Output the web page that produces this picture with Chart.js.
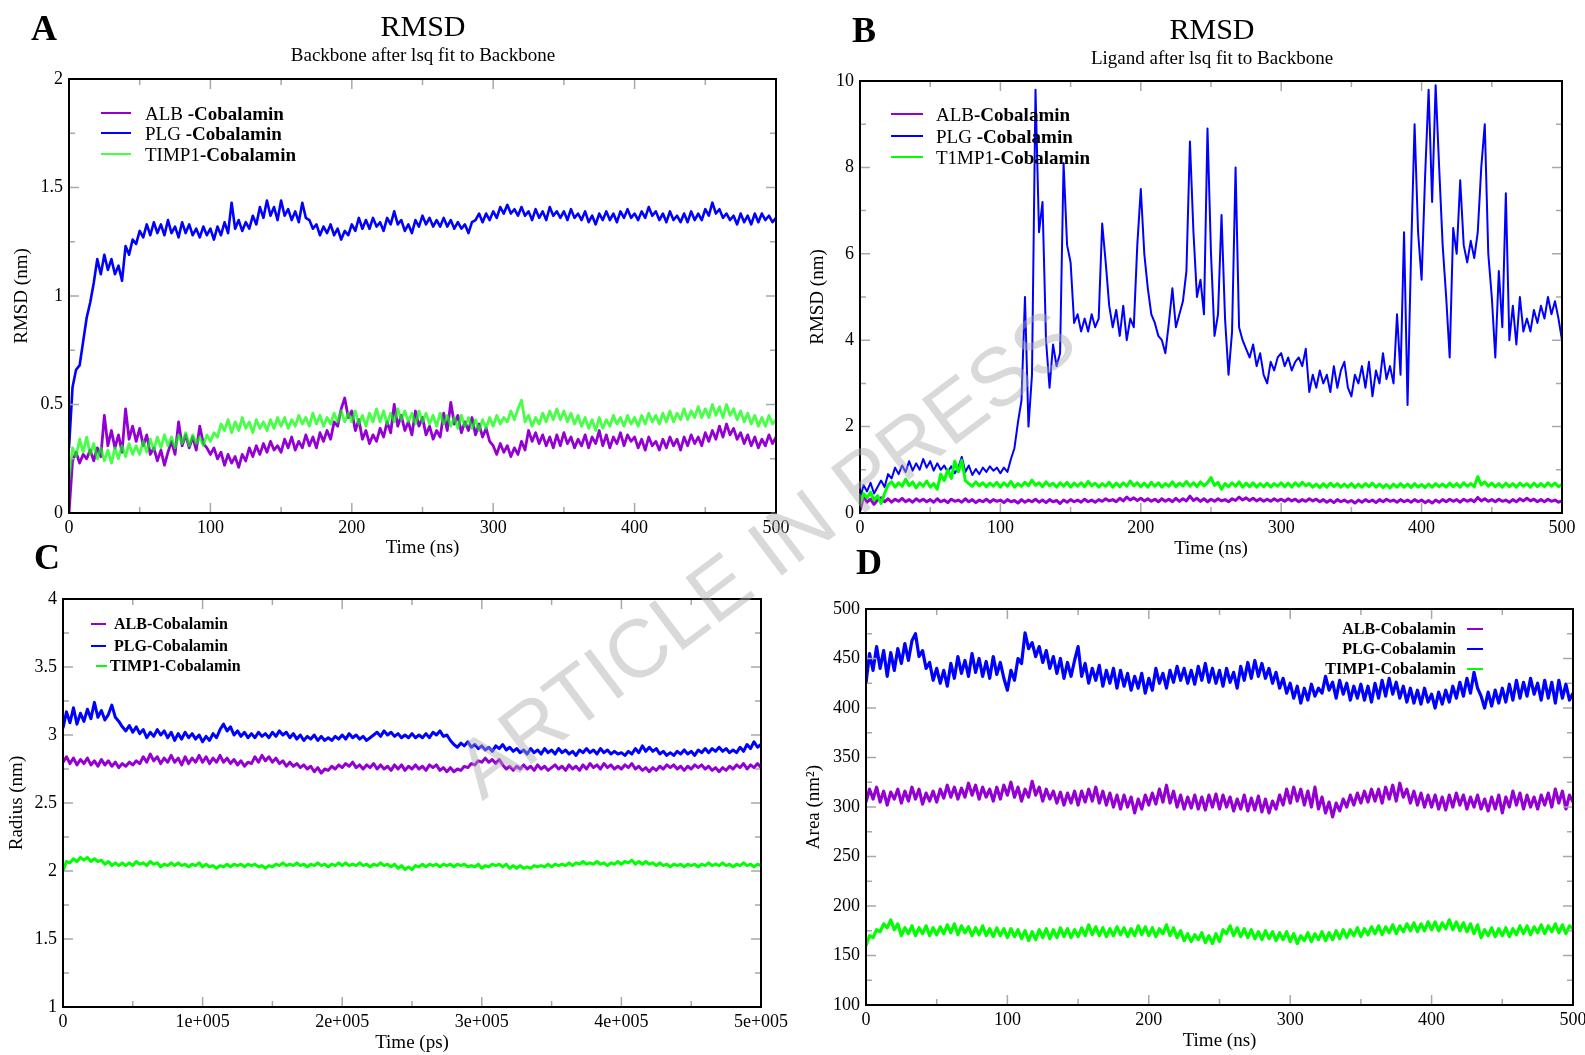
<!DOCTYPE html>
<html>
<head>
<meta charset="utf-8">
<script src="https://cdn.jsdelivr.net/npm/chart.js"></script>
<style>
  body { margin: 0; width: 1585px; height: 1055px; overflow: hidden; position: relative; background: #fff; font-family: "Liberation Serif", serif; color: #000; }
  canvas { position: absolute; }
  .txt { position: absolute; line-height: 1; white-space: nowrap; }
  .centro { transform: translate(-50%, -50%); }
  .meio { transform: translateY(-50%); }
  .dir { transform: translate(-100%, -50%); }
  .traco { position: absolute; height: 2px; }
  .letra { font-weight: bold; font-size: 36px; }
  .marca { position: absolute; left: 765px; top: 553px; transform: translate(-50%, -50%) rotate(-37deg);
           font-family: "Liberation Sans", sans-serif; font-size: 82px; line-height: 1; color: rgba(170,170,170,0.45);
           white-space: nowrap; pointer-events: none; }
</style>
</head>
<body>

<canvas id="gA" width="800" height="560" style="left:0px;top:0px"></canvas>
<canvas id="gB" width="795" height="560" style="left:790px;top:0px"></canvas>
<canvas id="gC" width="800" height="515" style="left:0px;top:540px"></canvas>
<canvas id="gD" width="820" height="515" style="left:790px;top:540px"></canvas>

<!-- letras dos paineis -->
<div class="txt centro letra" style="left:44px;top:28px">A</div>
<div class="txt centro letra" style="left:864px;top:30px">B</div>
<div class="txt centro letra" style="left:47px;top:557px">C</div>
<div class="txt centro letra" style="left:869px;top:562px">D</div>

<!-- titulos -->
<div class="txt centro" style="left:423px;top:26px;font-size:30px">RMSD</div>
<div class="txt centro" style="left:423px;top:54px;font-size:19px">Backbone after lsq fit to Backbone</div>
<div class="txt centro" style="left:1212px;top:29px;font-size:30px">RMSD</div>
<div class="txt centro" style="left:1212px;top:57px;font-size:19px">Ligand after lsq fit to Backbone</div>

<!-- legenda A -->
<div class="traco" style="left:101px;top:112px;width:30px;background:#9400d3"></div>
<div class="traco" style="left:101px;top:132px;width:30px;background:#0000ff"></div>
<div class="traco" style="left:101px;top:153px;width:30px;background:rgba(0,255,0,0.72)"></div>
<div class="txt meio" style="left:145px;top:113px;font-size:19px">ALB <b>-Cobalamin</b></div>
<div class="txt meio" style="left:145px;top:133px;font-size:19px">PLG <b>-Cobalamin</b></div>
<div class="txt meio" style="left:145px;top:154px;font-size:19px">TIMP1<b>-Cobalamin</b></div>

<!-- legenda B -->
<div class="traco" style="left:891px;top:113px;width:32px;background:#9400d3"></div>
<div class="traco" style="left:891px;top:135px;width:32px;background:#0000ff"></div>
<div class="traco" style="left:891px;top:156px;width:32px;background:#00ff00"></div>
<div class="txt meio" style="left:936px;top:114px;font-size:19px">ALB<b>-Cobalamin</b></div>
<div class="txt meio" style="left:936px;top:136px;font-size:19px">PLG <b>-Cobalamin</b></div>
<div class="txt meio" style="left:936px;top:157px;font-size:19px">T1MP1<b>-Cobalamin</b></div>

<!-- legenda C -->
<div class="traco" style="left:91px;top:623px;width:15px;background:#9400d3"></div>
<div class="traco" style="left:91px;top:645px;width:15px;background:#0000ff"></div>
<div class="traco" style="left:96px;top:665px;width:11px;background:#00ff00"></div>
<div class="txt meio" style="left:114px;top:624px;font-size:16px;font-weight:bold">ALB-Cobalamin</div>
<div class="txt meio" style="left:114px;top:646px;font-size:16px;font-weight:bold">PLG-Cobalamin</div>
<div class="txt meio" style="left:110px;top:666px;font-size:16px;font-weight:bold">TIMP1-Cobalamin</div>

<!-- legenda D -->
<div class="traco" style="left:1467px;top:628px;width:16px;background:#9400d3"></div>
<div class="traco" style="left:1467px;top:648px;width:16px;background:#0000ff"></div>
<div class="traco" style="left:1467px;top:668px;width:16px;background:#00ff00"></div>
<div class="txt dir" style="left:1456px;top:629px;font-size:16px;font-weight:bold">ALB-Cobalamin</div>
<div class="txt dir" style="left:1456px;top:649px;font-size:16px;font-weight:bold">PLG-Cobalamin</div>
<div class="txt dir" style="left:1456px;top:669px;font-size:16px;font-weight:bold">TIMP1-Cobalamin</div>

<div class="marca">ARTICLE IN PRESS</div>

<script>
// tempo (ns), amostrado a cada 2.5 ns
const tempo = [
  0,2.5,5,7.5,10,12.5,15,17.5,20,22.5,25,27.5,30,32.5,35,37.5,40,42.5,45,47.5,
  50,52.5,55,57.5,60,62.5,65,67.5,70,72.5,75,77.5,80,82.5,85,87.5,90,92.5,95,97.5,
  100,102.5,105,107.5,110,112.5,115,117.5,120,122.5,125,127.5,130,132.5,135,137.5,140,142.5,145,147.5,
  150,152.5,155,157.5,160,162.5,165,167.5,170,172.5,175,177.5,180,182.5,185,187.5,190,192.5,195,197.5,
  200,202.5,205,207.5,210,212.5,215,217.5,220,222.5,225,227.5,230,232.5,235,237.5,240,242.5,245,247.5,
  250,252.5,255,257.5,260,262.5,265,267.5,270,272.5,275,277.5,280,282.5,285,287.5,290,292.5,295,297.5,
  300,302.5,305,307.5,310,312.5,315,317.5,320,322.5,325,327.5,330,332.5,335,337.5,340,342.5,345,347.5,
  350,352.5,355,357.5,360,362.5,365,367.5,370,372.5,375,377.5,380,382.5,385,387.5,390,392.5,395,397.5,
  400,402.5,405,407.5,410,412.5,415,417.5,420,422.5,425,427.5,430,432.5,435,437.5,440,442.5,445,447.5,
  450,452.5,455,457.5,460,462.5,465,467.5,470,472.5,475,477.5,480,482.5,485,487.5,490,492.5,495,497.5,
  500
];
// painel C usa ps
const tempoPs = tempo.map(t => t * 1000);

// A - RMSD backbone (nm)
const albA = [
  0,0.24,0.28,0.23,0.27,0.25,0.29,0.24,0.3,0.26,0.45,0.31,0.38,0.3,0.36,0.28,0.48,0.34,0.4,0.33,
  0.39,0.31,0.36,0.27,0.3,0.24,0.29,0.22,0.28,0.33,0.27,0.42,0.31,0.36,0.3,0.35,0.29,0.4,0.32,0.3,
  0.27,0.3,0.25,0.28,0.22,0.27,0.23,0.26,0.21,0.27,0.24,0.3,0.26,0.31,0.27,0.32,0.28,0.33,0.29,0.31,
  0.28,0.34,0.3,0.35,0.29,0.33,0.3,0.36,0.31,0.35,0.3,0.37,0.33,0.38,0.34,0.42,0.4,0.48,0.53,0.44,
  0.47,0.38,0.43,0.34,0.38,0.32,0.36,0.33,0.39,0.35,0.42,0.37,0.5,0.4,0.45,0.38,0.42,0.36,0.47,0.4,
  0.44,0.36,0.4,0.34,0.38,0.35,0.46,0.38,0.51,0.41,0.45,0.37,0.42,0.38,0.44,0.36,0.41,0.35,0.39,0.33,
  0.31,0.27,0.32,0.28,0.31,0.26,0.3,0.27,0.33,0.29,0.38,0.33,0.37,0.32,0.36,0.31,0.35,0.3,0.36,0.31,
  0.37,0.32,0.35,0.3,0.34,0.31,0.36,0.3,0.35,0.32,0.38,0.31,0.36,0.3,0.35,0.32,0.37,0.31,0.36,0.33,
  0.35,0.3,0.34,0.29,0.35,0.31,0.33,0.29,0.34,0.3,0.35,0.31,0.34,0.29,0.35,0.31,0.36,0.32,0.35,0.31,
  0.37,0.33,0.38,0.34,0.4,0.35,0.41,0.36,0.39,0.34,0.37,0.32,0.36,0.31,0.35,0.3,0.34,0.31,0.36,0.32,
  0.35
];
const plgA = [
  0.3,0.58,0.66,0.68,0.79,0.9,0.97,1.06,1.17,1.1,1.19,1.12,1.17,1.1,1.14,1.07,1.23,1.19,1.26,1.24,
  1.3,1.27,1.33,1.28,1.34,1.29,1.33,1.28,1.35,1.29,1.32,1.27,1.34,1.29,1.33,1.28,1.31,1.27,1.32,1.28,
  1.31,1.26,1.32,1.28,1.34,1.29,1.43,1.31,1.35,1.3,1.34,1.31,1.37,1.33,1.41,1.36,1.44,1.37,1.41,1.35,
  1.44,1.37,1.4,1.35,1.39,1.34,1.43,1.36,1.35,1.31,1.33,1.28,1.32,1.29,1.33,1.28,1.31,1.26,1.3,1.28,
  1.33,1.3,1.36,1.31,1.35,1.31,1.36,1.32,1.34,1.3,1.36,1.33,1.39,1.33,1.35,1.3,1.33,1.29,1.35,1.32,
  1.37,1.33,1.36,1.32,1.35,1.32,1.36,1.32,1.35,1.31,1.34,1.31,1.33,1.29,1.34,1.35,1.38,1.34,1.38,1.35,
  1.39,1.36,1.41,1.38,1.42,1.38,1.4,1.37,1.41,1.37,1.39,1.35,1.4,1.36,1.39,1.35,1.41,1.37,1.39,1.36,
  1.39,1.35,1.4,1.36,1.38,1.35,1.39,1.34,1.37,1.33,1.38,1.35,1.39,1.35,1.38,1.34,1.39,1.36,1.4,1.36,
  1.38,1.35,1.39,1.36,1.41,1.37,1.39,1.35,1.38,1.34,1.39,1.35,1.37,1.34,1.38,1.34,1.39,1.35,1.38,1.35,
  1.4,1.37,1.43,1.38,1.4,1.36,1.38,1.35,1.37,1.33,1.38,1.34,1.37,1.33,1.38,1.34,1.38,1.35,1.37,1.34,
  1.36
];
const timpA = [
  0.15,0.3,0.26,0.34,0.28,0.35,0.27,0.32,0.25,0.3,0.24,0.29,0.23,0.3,0.25,0.31,0.26,0.32,0.27,0.31,
  0.27,0.33,0.28,0.34,0.29,0.35,0.3,0.36,0.31,0.35,0.3,0.36,0.32,0.37,0.31,0.36,0.32,0.35,0.31,0.36,
  0.33,0.37,0.35,0.41,0.38,0.43,0.37,0.42,0.38,0.44,0.39,0.42,0.37,0.43,0.39,0.42,0.38,0.43,0.39,0.44,
  0.4,0.44,0.39,0.43,0.4,0.45,0.41,0.44,0.4,0.46,0.41,0.45,0.4,0.44,0.41,0.46,0.42,0.47,0.42,0.46,
  0.42,0.47,0.41,0.45,0.4,0.46,0.42,0.48,0.42,0.47,0.41,0.46,0.42,0.48,0.43,0.47,0.42,0.46,0.41,0.47,
  0.42,0.46,0.41,0.45,0.4,0.46,0.41,0.45,0.4,0.44,0.39,0.45,0.4,0.44,0.39,0.43,0.38,0.43,0.39,0.44,
  0.4,0.45,0.41,0.44,0.42,0.47,0.43,0.48,0.52,0.42,0.45,0.4,0.44,0.41,0.46,0.42,0.47,0.43,0.48,0.43,
  0.47,0.42,0.46,0.41,0.45,0.4,0.44,0.39,0.43,0.38,0.44,0.39,0.43,0.4,0.45,0.41,0.44,0.4,0.45,0.41,
  0.44,0.4,0.45,0.41,0.46,0.42,0.45,0.41,0.46,0.42,0.47,0.42,0.46,0.43,0.48,0.43,0.47,0.44,0.49,0.44,
  0.48,0.44,0.5,0.45,0.49,0.44,0.5,0.45,0.48,0.43,0.47,0.42,0.46,0.41,0.45,0.4,0.44,0.4,0.45,0.41,
  0.43
];

// B - RMSD ligante (nm)
const albB = [
  0.05,0.38,0.25,0.32,0.2,0.3,0.35,0.26,0.33,0.25,0.32,0.27,0.34,0.26,0.31,0.25,0.33,0.27,0.32,0.26,
  0.31,0.25,0.33,0.26,0.3,0.24,0.32,0.27,0.3,0.25,0.33,0.26,0.31,0.24,0.3,0.26,0.32,0.25,0.31,0.27,
  0.3,0.24,0.31,0.26,0.29,0.23,0.31,0.25,0.3,0.26,0.32,0.25,0.3,0.24,0.31,0.26,0.29,0.22,0.3,0.25,
  0.31,0.26,0.3,0.25,0.32,0.26,0.3,0.25,0.31,0.27,0.33,0.28,0.31,0.26,0.34,0.28,0.37,0.3,0.35,0.29,
  0.34,0.28,0.33,0.27,0.32,0.26,0.33,0.27,0.32,0.26,0.34,0.27,0.33,0.28,0.39,0.29,0.34,0.27,0.33,0.26,
  0.32,0.27,0.33,0.28,0.31,0.26,0.33,0.29,0.37,0.3,0.35,0.29,0.34,0.28,0.33,0.27,0.32,0.27,0.33,0.28,
  0.32,0.27,0.33,0.28,0.32,0.26,0.31,0.27,0.33,0.28,0.32,0.26,0.31,0.25,0.3,0.24,0.31,0.26,0.3,0.25,
  0.29,0.23,0.3,0.25,0.31,0.26,0.3,0.24,0.31,0.26,0.32,0.27,0.3,0.25,0.31,0.26,0.3,0.25,0.31,0.26,
  0.3,0.24,0.29,0.23,0.3,0.25,0.31,0.26,0.32,0.27,0.31,0.25,0.32,0.27,0.31,0.26,0.36,0.28,0.33,0.27,
  0.31,0.26,0.32,0.27,0.3,0.25,0.31,0.26,0.33,0.28,0.34,0.28,0.32,0.26,0.31,0.26,0.32,0.27,0.3,0.25,
  0.28
];
const plgB = [
  0.3,0.65,0.5,0.7,0.45,0.6,0.75,0.6,0.9,0.8,1.05,0.9,1.1,0.95,1.2,0.98,1.15,1.0,1.25,1.05,
  1.2,0.98,1.15,1.0,1.1,0.95,1.08,0.92,1.05,1.3,0.95,1.1,0.88,1.02,0.9,1.05,0.95,1.08,0.98,1.05,
  0.92,1.05,0.95,1.25,1.5,2.1,2.6,5.0,2.0,3.2,9.8,6.5,7.2,4.0,2.9,3.9,3.4,3.7,8.1,6.2,
  5.8,4.4,4.6,4.2,4.5,4.2,4.6,4.3,4.5,6.7,5.8,4.8,4.3,4.7,4.1,4.8,4.0,4.5,4.3,6.2,
  7.5,6.0,5.2,4.6,4.4,4.1,4.0,3.7,4.4,5.2,4.3,4.6,4.9,5.6,8.6,6.5,5.0,5.4,4.6,8.9,
  6.0,4.1,4.6,6.9,4.5,3.2,4.2,8.0,4.3,4.0,3.8,3.6,3.9,3.4,3.7,3.2,3.0,3.5,3.3,3.6,
  3.7,3.4,3.6,3.3,3.5,3.6,3.4,3.8,2.8,3.2,2.9,3.3,3.0,3.2,2.8,3.4,2.9,3.3,3.5,2.9,
  2.7,3.2,3.0,3.4,2.9,3.5,2.7,3.3,3.0,3.7,3.1,3.4,3.0,4.6,3.2,6.5,2.5,6.0,9.0,6.5,
  5.4,7.8,9.8,7.2,9.9,8.0,6.2,5.0,3.6,6.6,6.0,7.7,6.2,5.8,6.3,5.9,6.5,8.0,9.0,6.0,
  5.0,3.6,5.6,4.3,7.4,4.0,4.8,3.9,5.0,4.2,4.5,4.2,4.7,4.4,4.8,4.5,5.0,4.6,4.9,4.5,
  4.0
];
const timpB = [
  0.2,0.45,0.35,0.48,0.3,0.4,0.22,0.45,0.65,0.72,0.6,0.7,0.62,0.78,0.63,0.72,0.58,0.7,0.62,0.74,
  0.6,0.68,0.55,0.9,0.75,1.0,0.8,1.2,0.95,1.22,0.75,0.68,0.62,0.72,0.63,0.7,0.61,0.69,0.62,0.71,
  0.6,0.7,0.62,0.73,0.6,0.68,0.62,0.71,0.63,0.76,0.64,0.7,0.61,0.72,0.63,0.69,0.6,0.7,0.62,0.71,
  0.6,0.69,0.62,0.7,0.61,0.73,0.63,0.69,0.6,0.68,0.62,0.71,0.6,0.69,0.61,0.7,0.62,0.74,0.63,0.7,
  0.61,0.69,0.6,0.71,0.62,0.7,0.6,0.68,0.62,0.72,0.61,0.69,0.63,0.73,0.62,0.7,0.61,0.72,0.63,0.7,
  0.82,0.64,0.71,0.55,0.68,0.61,0.7,0.62,0.72,0.6,0.69,0.61,0.7,0.6,0.68,0.61,0.69,0.6,0.68,0.62,
  0.7,0.61,0.69,0.6,0.7,0.62,0.71,0.63,0.68,0.6,0.67,0.59,0.68,0.6,0.69,0.61,0.68,0.6,0.67,0.6,
  0.68,0.59,0.67,0.6,0.68,0.61,0.69,0.6,0.67,0.59,0.66,0.58,0.67,0.6,0.68,0.6,0.67,0.59,0.68,0.6,
  0.66,0.59,0.67,0.6,0.68,0.61,0.67,0.6,0.69,0.61,0.68,0.6,0.7,0.62,0.68,0.61,0.84,0.65,0.72,0.62,
  0.69,0.61,0.68,0.6,0.69,0.61,0.68,0.6,0.69,0.62,0.68,0.6,0.69,0.61,0.68,0.61,0.7,0.62,0.69,0.61,
  0.66
];

// C - raio de giro (nm)
const albC = [
  2.8,2.84,2.79,2.83,2.78,2.82,2.79,2.83,2.78,2.81,2.77,2.82,2.78,2.81,2.77,2.8,2.76,2.79,2.77,2.8,
  2.78,2.81,2.79,2.84,2.8,2.86,2.81,2.84,2.79,2.83,2.8,2.85,2.8,2.83,2.78,2.84,2.79,2.83,2.8,2.85,
  2.8,2.84,2.79,2.83,2.8,2.85,2.8,2.83,2.79,2.82,2.78,2.81,2.77,2.8,2.79,2.84,2.8,2.85,2.81,2.84,
  2.8,2.83,2.79,2.81,2.77,2.8,2.77,2.79,2.76,2.78,2.75,2.77,2.73,2.76,2.72,2.75,2.74,2.77,2.75,2.78,
  2.76,2.79,2.77,2.8,2.76,2.78,2.75,2.78,2.76,2.79,2.75,2.78,2.75,2.77,2.74,2.78,2.75,2.78,2.74,2.77,
  2.75,2.78,2.75,2.77,2.74,2.78,2.76,2.78,2.74,2.76,2.73,2.76,2.73,2.75,2.74,2.77,2.76,2.79,2.78,2.81,
  2.8,2.83,2.8,2.82,2.79,2.82,2.78,2.75,2.77,2.74,2.77,2.75,2.78,2.75,2.77,2.74,2.78,2.75,2.77,2.74,
  2.76,2.78,2.75,2.77,2.74,2.78,2.75,2.77,2.74,2.78,2.75,2.79,2.76,2.78,2.75,2.79,2.76,2.78,2.75,2.77,
  2.75,2.78,2.76,2.79,2.75,2.77,2.74,2.76,2.73,2.76,2.74,2.77,2.75,2.78,2.76,2.78,2.75,2.77,2.74,2.77,
  2.75,2.78,2.76,2.78,2.75,2.77,2.74,2.76,2.73,2.76,2.74,2.77,2.75,2.78,2.76,2.79,2.75,2.78,2.76,2.79,
  2.76
];
const plgC = [
  3.05,3.17,3.09,3.2,3.08,3.16,3.1,3.19,3.12,3.24,3.13,3.18,3.11,3.15,3.22,3.13,3.1,3.06,3.03,3.07,
  3.02,3.06,3.01,3.04,2.98,3.02,2.99,3.04,3.0,3.03,2.98,3.02,2.96,3.01,2.97,3.02,2.98,3.01,2.97,3.0,
  2.95,2.99,2.96,3.01,2.98,3.04,3.08,3.03,3.06,3.0,3.03,2.99,3.02,2.98,3.01,2.98,3.02,2.99,3.01,2.98,
  3.02,2.99,3.03,3.0,3.02,2.98,3.01,2.97,3.0,2.96,2.99,2.97,3.0,2.96,2.99,2.96,2.98,2.96,2.99,2.97,
  3.0,2.97,3.01,2.98,3.0,2.97,2.99,2.96,2.98,3.0,3.02,2.99,3.03,3.0,3.02,2.99,3.01,2.98,3.0,2.98,
  3.01,2.98,3.0,2.98,3.01,2.98,3.02,3.0,3.03,2.99,3.0,2.96,2.93,2.91,2.94,2.92,2.95,2.91,2.93,2.9,
  2.92,2.89,2.91,2.88,2.92,2.9,2.93,2.89,2.91,2.88,2.9,2.87,2.89,2.86,2.9,2.87,2.89,2.86,2.9,2.87,
  2.89,2.86,2.9,2.87,2.89,2.86,2.88,2.85,2.89,2.87,2.9,2.87,2.89,2.86,2.9,2.87,2.89,2.86,2.88,2.86,
  2.87,2.85,2.88,2.86,2.9,2.87,2.92,2.88,2.91,2.88,2.9,2.86,2.88,2.85,2.87,2.85,2.88,2.86,2.89,2.86,
  2.88,2.85,2.89,2.87,2.9,2.87,2.9,2.88,2.91,2.88,2.9,2.87,2.89,2.87,2.91,2.88,2.93,2.9,2.95,2.91,
  2.93
];
const timpC = [
  2.0,2.07,2.06,2.09,2.07,2.1,2.08,2.1,2.07,2.09,2.07,2.08,2.05,2.07,2.04,2.06,2.04,2.06,2.04,2.06,
  2.04,2.07,2.05,2.06,2.04,2.07,2.05,2.06,2.03,2.05,2.04,2.06,2.04,2.06,2.04,2.05,2.03,2.05,2.04,2.06,
  2.03,2.05,2.03,2.04,2.02,2.04,2.03,2.05,2.03,2.05,2.04,2.05,2.03,2.05,2.04,2.05,2.03,2.04,2.02,2.04,
  2.03,2.05,2.04,2.06,2.04,2.05,2.04,2.06,2.04,2.05,2.03,2.05,2.04,2.06,2.04,2.05,2.03,2.05,2.04,2.06,
  2.04,2.06,2.04,2.05,2.04,2.06,2.04,2.05,2.03,2.05,2.04,2.06,2.04,2.05,2.03,2.05,2.02,2.04,2.01,2.03,
  2.01,2.04,2.03,2.05,2.03,2.05,2.04,2.05,2.03,2.05,2.04,2.05,2.03,2.05,2.04,2.05,2.03,2.04,2.03,2.05,
  2.02,2.04,2.03,2.05,2.04,2.05,2.03,2.05,2.02,2.04,2.02,2.04,2.02,2.03,2.02,2.04,2.03,2.04,2.03,2.05,
  2.03,2.05,2.04,2.05,2.04,2.06,2.04,2.06,2.05,2.07,2.05,2.06,2.05,2.07,2.05,2.06,2.04,2.06,2.05,2.07,
  2.05,2.07,2.06,2.08,2.05,2.07,2.05,2.07,2.05,2.06,2.04,2.06,2.04,2.05,2.03,2.05,2.04,2.05,2.03,2.05,
  2.04,2.05,2.03,2.05,2.04,2.06,2.04,2.05,2.04,2.06,2.04,2.05,2.03,2.05,2.04,2.06,2.04,2.05,2.03,2.05,
  2.04
];

// D - area (nm2)
const albD = [
  305,318,308,320,305,316,302,315,308,318,304,316,306,320,308,318,303,314,306,316,
  305,318,309,322,310,320,308,319,310,324,312,322,308,320,310,318,306,320,308,322,
  312,325,310,320,306,318,310,326,312,320,306,318,308,316,304,315,302,314,304,316,
  302,316,305,318,306,320,304,316,302,314,300,312,298,312,300,310,294,308,298,312,
  302,314,303,318,305,322,304,316,300,312,298,310,299,312,298,310,297,312,300,313,
  298,312,300,310,296,308,298,312,296,309,297,311,295,308,294,306,298,312,302,318,
  304,320,306,318,302,316,300,320,298,310,294,305,290,304,296,308,300,312,302,314,
  304,316,305,318,306,318,304,320,308,322,306,324,310,318,304,316,302,314,300,312,
  300,312,298,310,297,312,300,314,302,312,298,310,300,312,298,308,296,310,298,312,
  294,310,300,316,302,314,298,312,300,310,298,312,302,314,300,318,304,316,298,312,
  305
];
const plgD = [
  425,455,438,462,440,458,432,456,438,460,445,465,448,468,475,452,458,440,446,428,
  440,425,438,422,445,430,452,435,448,432,455,436,450,432,447,430,452,434,446,430,
  418,438,428,450,445,476,460,466,452,462,446,458,440,452,435,450,430,446,432,448,
  462,432,445,425,440,428,443,422,438,425,440,420,438,422,435,418,432,420,435,415,
  430,418,440,425,435,420,438,426,442,428,440,425,438,424,442,428,445,426,440,425,
  438,422,440,426,436,420,442,428,446,430,448,432,445,430,440,425,436,420,430,415,
  425,410,422,405,420,408,424,412,420,415,432,418,426,410,428,414,425,408,422,410,
  424,408,422,406,425,410,428,412,430,414,426,410,422,406,420,405,418,404,420,406,
  414,400,416,404,418,406,422,410,426,412,430,415,436,420,412,400,416,402,418,405,
  420,406,424,408,428,410,426,412,430,414,425,408,428,410,426,405,428,410,424,408,
  415
];
const timpD = [
  160,170,168,176,174,182,178,186,176,182,170,178,172,180,170,178,172,180,170,178,
  171,179,172,181,173,182,171,180,173,179,170,178,171,180,170,177,169,178,170,177,
  168,177,169,176,167,175,165,174,166,176,168,177,167,176,168,178,169,177,168,176,
  169,178,170,181,171,179,170,178,169,177,170,179,171,178,169,177,170,180,171,179,
  170,178,169,177,172,181,170,178,168,175,165,172,164,171,166,173,163,170,162,172,
  164,176,172,180,170,178,169,177,168,176,167,174,166,175,167,174,165,173,166,174,
  164,172,162,170,165,173,164,172,166,174,165,173,166,175,167,176,168,176,170,178,
  169,177,171,179,172,180,171,179,173,181,172,180,174,182,175,183,174,182,175,184,
  176,184,175,183,177,186,176,184,175,183,174,182,172,181,168,176,170,178,169,177,
  170,178,169,177,171,180,172,180,171,179,173,181,172,180,174,182,173,181,172,180,
  177
];

// rotulos dos eixos
const rotulosX = ["0", "100", "200", "300", "400", "500"];
const rotulosXC = ["0", "1e+005", "2e+005", "3e+005", "4e+005", "5e+005"];
const rotulosYA = ["0", "0.5", "1", "1.5", "2"];
const rotulosYB = ["0", "2", "4", "6", "8", "10"];
const rotulosYC = ["1", "1.5", "2", "2.5", "3", "3.5", "4"];
const rotulosYD = ["100", "150", "200", "250", "300", "350", "400", "450", "500"];

const roxo = '#9400d3';
const azul = '#0000ff';
const verde = '#00ff00';

function pares(xs, ys) {
  return xs.map((x, i) => ({ x: x, y: ys[i] }));
}

// moldura preta e marcas para dentro, estilo xmgrace
const moldura = {
  id: 'moldura',
  afterDatasetsDraw(chart, args, op) {
    const ctx = chart.ctx;
    const a = chart.chartArea;
    const sx = chart.scales.x, sy = chart.scales.y;
    ctx.save();
    ctx.strokeStyle = '#a8a8a8';
    ctx.lineWidth = 1.5;
    ctx.beginPath();
    const nx = Math.round((sx.max - sx.min) / (op.passoX / 2));
    for (let i = 0; i <= nx; i++) {
      const px = sx.getPixelForValue(sx.min + i * op.passoX / 2);
      const len = i % 2 === 0 ? 10 : 6;
      ctx.moveTo(px, a.bottom); ctx.lineTo(px, a.bottom - len);
      ctx.moveTo(px, a.top); ctx.lineTo(px, a.top + len);
    }
    const ny = Math.round((sy.max - sy.min) / (op.passoY / 2));
    for (let i = 0; i <= ny; i++) {
      const py = sy.getPixelForValue(sy.min + i * op.passoY / 2);
      const len = i % 2 === 0 ? 10 : 6;
      ctx.moveTo(a.left, py); ctx.lineTo(a.left + len, py);
      ctx.moveTo(a.right, py); ctx.lineTo(a.right - len, py);
    }
    ctx.stroke();
    ctx.strokeStyle = '#000';
    ctx.lineWidth = 2;
    ctx.strokeRect(a.left, a.top, a.right - a.left, a.bottom - a.top);
    ctx.restore();
  }
};
Chart.register(moldura);

function criarGrafico(id, c) {
  const fonteTick = { family: 'Liberation Serif', size: 18 };
  const fonteTitulo = { family: 'Liberation Serif', size: 19 };
  new Chart(document.getElementById(id), {
    type: 'line',
    data: {
      datasets: c.series.map(s => ({
        data: pares(s.x, s.y),
        borderColor: s.cor,
        borderWidth: s.espessura,
        borderJoinStyle: 'round',
        pointRadius: 0,
        tension: 0,
        order: s.ordem
      }))
    },
    options: {
      responsive: false,
      animation: false,
      events: [],
      layout: { padding: { left: 0, top: c.topo, right: c.direita, bottom: 0 } },
      plugins: {
        legend: { display: false },
        tooltip: { enabled: false },
        moldura: { passoX: c.passoX, passoY: c.passoY }
      },
      scales: {
        x: {
          type: 'linear',
          min: c.xMin, max: c.xMax,
          afterFit: s => { s.height = c.altX; },
          grid: { display: false, drawTicks: false },
          border: { display: false },
          ticks: {
            stepSize: c.passoX, autoSkip: false, maxRotation: 0, padding: 4,
            color: '#000', font: fonteTick,
            callback: (v, i) => c.rotX[i]
          },
          title: { display: true, text: c.tituloX, color: '#000', font: fonteTitulo, padding: { top: 0, bottom: c.padTitX } }
        },
        y: {
          min: c.yMin, max: c.yMax,
          afterFit: s => { s.width = c.largY; },
          grid: { display: false, drawTicks: false },
          border: { display: false },
          ticks: {
            stepSize: c.passoY, autoSkip: false, padding: 6,
            color: '#000', font: fonteTick,
            callback: (v, i) => c.rotY[i]
          },
          title: { display: true, text: c.tituloY, color: '#000', font: fonteTitulo, padding: { top: c.padTitY, bottom: 0 } }
        }
      }
    }
  });
}

criarGrafico('gA', {
  series: [
    { x: tempo, y: albA, cor: roxo, ordem: 1, espessura: 2.8 },
    { x: tempo, y: plgA, cor: azul, ordem: 2, espessura: 2.6 },
    { x: tempo, y: timpA, cor: 'rgba(0,255,0,0.72)', ordem: 0, espessura: 2.8 }
  ],
  xMin: 0, xMax: 500, passoX: 100, rotX: rotulosX,
  yMin: 0, yMax: 2, passoY: 0.5, rotY: rotulosYA,
  tituloX: 'Time (ns)', tituloY: 'RMSD (nm)',
  topo: 79, direita: 24, largY: 69, altX: 47, padTitY: 10.6, padTitX: 0.6
});

criarGrafico('gB', {
  series: [
    { x: tempo, y: albB, cor: roxo, ordem: 1, espessura: 3 },
    { x: tempo, y: plgB, cor: azul, ordem: 2, espessura: 2 },
    { x: tempo, y: timpB, cor: verde, ordem: 0, espessura: 3 }
  ],
  xMin: 0, xMax: 500, passoX: 100, rotX: rotulosX,
  yMin: 0, yMax: 10, passoY: 2, rotY: rotulosYB,
  tituloX: 'Time (ns)', tituloY: 'RMSD (nm)',
  topo: 81, direita: 23, largY: 70, altX: 47, padTitY: 16.6, padTitX: 0
});

criarGrafico('gC', {
  series: [
    { x: tempoPs, y: albC, cor: roxo, ordem: 1, espessura: 3 },
    { x: tempoPs, y: plgC, cor: azul, ordem: 2, espessura: 3 },
    { x: tempoPs, y: timpC, cor: verde, ordem: 0, espessura: 3 }
  ],
  xMin: 0, xMax: 500000, passoX: 100000, rotX: rotulosXC,
  yMin: 1, yMax: 4, passoY: 0.5, rotY: rotulosYC,
  tituloX: 'Time (ps)', tituloY: 'Radius (nm)',
  topo: 59, direita: 39, largY: 63, altX: 48, padTitY: 5.6, padTitX: 0.6
});

criarGrafico('gD', {
  series: [
    { x: tempo, y: albD, cor: roxo, ordem: 1, espessura: 3.2 },
    { x: tempo, y: plgD, cor: azul, ordem: 2, espessura: 3.2 },
    { x: tempo, y: timpD, cor: verde, ordem: 0, espessura: 3.2 }
  ],
  xMin: 0, xMax: 500, passoX: 100, rotX: rotulosX,
  yMin: 100, yMax: 500, passoY: 50, rotY: rotulosYD,
  tituloX: 'Time (ns)', tituloY: 'Area (nm\u00b2)',
  topo: 69, direita: 37, largY: 76, altX: 50, padTitY: 12.6, padTitX: 2.6
});
</script>
</body>
</html>
